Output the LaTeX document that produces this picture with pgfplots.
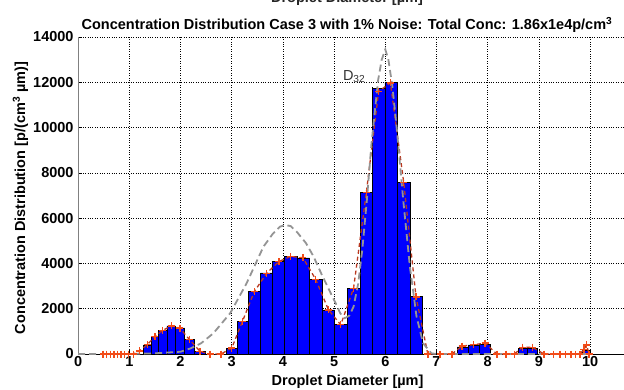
\documentclass[border=0pt]{standalone}
\usepackage{fontspec}
\setmainfont{Liberation Sans}
\usepackage{pgfplots}
\pgfplotsset{compat=1.18}
\definecolor{barblue}{rgb}{0,0,1}
\definecolor{redmark}{rgb}{0.95,0.3,0.1}
\definecolor{redline}{rgb}{0.72,0.22,0.12}
\definecolor{fitgray}{rgb}{0.58,0.58,0.58}
\newcommand{\lf}{\bfseries\fontsize{14.5}{17}\selectfont}
\begin{document}
\begin{tikzpicture}
\path[use as bounding box] (0,0) rectangle (624pt,389pt);
\clip (0,0) rectangle (624pt,389pt);
\node[anchor=base, font=\lf, text=black!85] at (347pt,386pt) {Droplet Diameter [µm]};
\node[anchor=base, font=\lf] at (347pt,359pt) {Concentration Distribution Case 3 with 1\% Noise: Total Conc: 1.86x1e4p/cm\textsuperscript{3}};
\begin{axis}[
  at={(78.1pt,35pt)}, anchor=south west,
  scale only axis, width=545.9pt, height=317pt,
  xmin=0, xmax=10.662, ymin=0, ymax=14000,
  axis x line*=bottom, axis y line*=left,
  xtick={0,1,...,10}, ytick={0,2000,...,14000},
  grid=major, major grid style={black, dotted, line width=0.6pt},
  tick style={black, line width=0.5pt}, tick align=inside, major tick length=4pt,
  x axis line style={black, line width=0.8pt},
  y axis line style={gray, line width=0.8pt},
  ticklabel style={font=\lf},
  /pgf/number format/assume math mode=true,
  /pgf/number format/set thousands separator={},
  scaled y ticks=false,
  xticklabel style={yshift=1pt},
  yticklabel style={xshift=-1pt},
  xlabel={Droplet Diameter [µm]},
  ylabel={Concentration Distribution [p/(cm\textsuperscript{3} µm)]},
  label style={font=\lf},
  xlabel style={at={(axis description cs:0.5,0)}, anchor=base, yshift=-31pt, xshift=-3.5pt},
  ylabel style={at={(axis description cs:0,0.5)}, anchor=base, rotate=0, yshift=53pt, xshift=-2.5pt},
]
% bars
\addplot[ybar interval, fill=barblue, draw=black, line width=0.5pt] coordinates {
 (1.28,400) (1.425,770) (1.575,1050) (1.735,1240) (1.905,1150) (2.08,650) (2.275,130) (2.48,0)};
\addplot[ybar interval, fill=barblue, draw=black, line width=0.5pt] coordinates {
 (2.89,250) (3.105,1450) (3.32,2750) (3.56,3580) (3.795,4080) (4.035,4320) (4.275,4250)
 (4.52,3300) (4.76,1950) (5.01,1300) (5.26,2900) (5.51,7130) (5.75,11730) (5.99,11990)
 (6.24,7570) (6.48,2530) (6.72,0)};
\addplot[ybar interval, fill=barblue, draw=black, line width=0.5pt] coordinates {
 (7.41,320) (7.62,400) (7.84,440) (8.05,0)};
\addplot[ybar interval, fill=barblue, draw=black, line width=0.5pt] coordinates {
 (8.60,250) (8.78,250) (8.96,0)};
\addplot[ybar interval, fill=barblue, draw=black, line width=0.5pt] coordinates {
 (9.84,180) (10.0,0)};
% D32 line
\addplot[black, dashed, line width=1pt] coordinates {(5.75,0) (5.75,11800)};
% red dashed line through measured points
\addplot[redline, line width=1.3pt, dash pattern=on 4pt off 3pt] table {
x y
0.49 0
0.56 0
0.63 0
0.70 0
0.77 0
0.84 0
0.91 0
0.98 0
1.08 0
1.20 140
1.35 410
1.50 770
1.65 1040
1.82 1240
1.99 1140
2.17 650
2.38 120
2.58 0
2.79 0
3.00 260
3.21 1440
3.44 2750
3.68 3560
3.92 4080
4.15 4310
4.39 4250
4.64 3300
4.89 1950
5.13 1290
5.38 2900
5.63 7130
5.87 11600
6.10 11970
6.36 7570
6.60 2520
6.83 0
7.07 0
7.30 0
7.50 350
7.72 410
7.95 480
8.18 0
8.36 0
8.52 0
8.68 300
8.87 300
9.10 0
9.28 0
9.41 0
9.52 0
9.63 0
9.72 0
9.80 0
9.88 200
9.93 400
9.98 0
};
% gray fitted curve
\addplot[fitgray, line width=1.8pt, dash pattern=on 7pt off 4pt] table {
x y
0 0
1.0 0
1.5 30
2.0 100
2.2 250
2.4 470
2.64 910
2.97 1800
3.29 3120
3.62 4740
3.80 5300
3.94 5620
4.04 5700
4.15 5650
4.27 5400
4.45 4900
4.60 4300
4.75 3550
4.92 2750
5.05 2150
5.12 1800
5.21 1580
5.30 1700
5.38 2090
5.47 3100
5.55 4600
5.64 6800
5.73 9300
5.86 12100
5.93 13000
6.00 13450
6.06 13000
6.14 11800
6.22 10040
6.35 6800
6.48 3860
6.61 1650
6.74 470
6.90 30
7.0 0
10.0 0
};
% red markers
\addplot[only marks, mark=+, mark size=3.5pt, mark options={redmark, line width=1.4pt}] table {
x y
0.49 0
0.56 0
0.63 0
0.70 0
0.77 0
0.84 0
0.91 0
0.98 0
1.08 0
1.20 140
1.35 410
1.50 770
1.65 1040
1.82 1240
1.99 1140
2.17 650
2.38 120
2.58 0
2.79 0
3.00 260
3.21 1440
3.44 2750
3.68 3560
3.92 4080
4.15 4310
4.39 4250
4.64 3300
4.89 1950
5.13 1290
5.38 2900
5.63 7130
5.87 11600
6.10 11970
6.36 7570
6.60 2520
6.83 0
7.07 0
7.30 0
7.50 350
7.72 410
7.95 480
8.18 0
8.36 0
8.52 0
8.68 300
8.87 300
9.10 0
9.28 0
9.41 0
9.52 0
9.63 0
9.72 0
9.80 0
9.88 200
9.93 400
9.98 0
};
\node[anchor=base west, font=\fontsize{14.5}{17}\selectfont, text=black!80, inner sep=0pt] at (axis cs:5.17,12100) {D\textsubscript{32}};
\end{axis}
\end{tikzpicture}
\end{document}
